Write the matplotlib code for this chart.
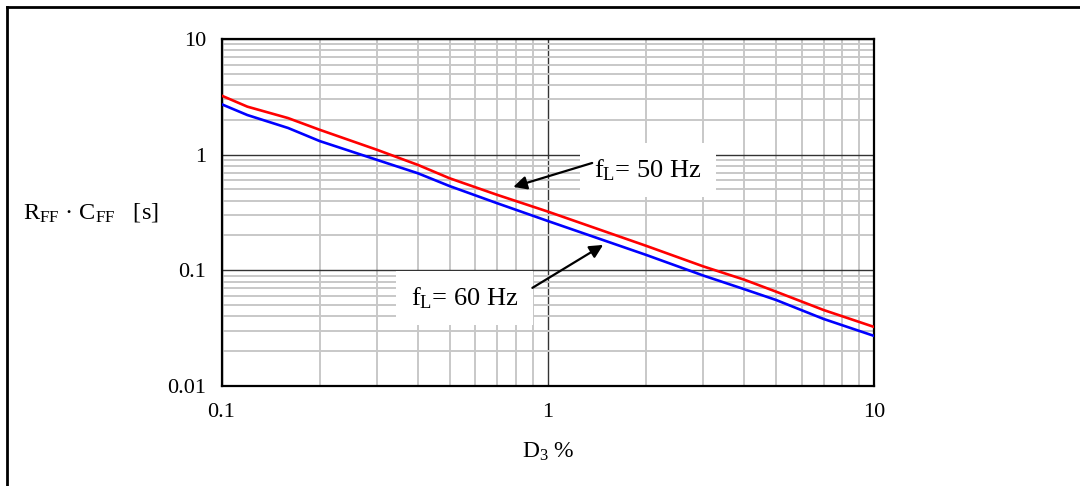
import numpy as np
import matplotlib
matplotlib.use("Agg")
import matplotlib.pyplot as plt
from matplotlib.lines import Line2D

D3 = [0.1, 0.12, 0.16, 0.2, 0.3, 0.4, 0.5, 0.7, 1, 2, 3, 4, 5, 7, 10]
RC_50HZ = [3.24, 2.60, 2.07, 1.64, 1.10, 0.815, 0.625, 0.449, 0.322, 0.163, 0.108, 0.083, 0.0655, 0.0454, 0.0324]
RC_60HZ = [2.73, 2.20, 1.70, 1.31, 0.90, 0.69, 0.535, 0.38, 0.267, 0.136, 0.090, 0.0687, 0.0555, 0.038, 0.0271]

XTICKS = [0.1, 1, 10]
XTICK_LABELS = ["0.1", "1", "10"]
YTICKS = [0.01, 0.1, 1, 10]
YTICK_LABELS = ["0.01", "0.1", "1", "10"]

plt.rcParams["font.family"] = ["Liberation Serif", "DejaVu Serif"]
plt.rcParams["mathtext.fontset"] = "custom"
plt.rcParams["mathtext.rm"] = "Liberation Serif"
plt.rcParams["mathtext.it"] = "Liberation Serif:italic"

fig = plt.figure(figsize=(10.8, 4.86), dpi=100)
ax = fig.add_axes([0.2051, 0.2058, 0.6042, 0.714])

ax.plot(D3, RC_50HZ, color="#ff0000", lw=1.9, zorder=3)
ax.plot(D3, RC_60HZ, color="#0000ff", lw=1.9, zorder=3)

ax.set_xscale("log")
ax.set_yscale("log")
ax.set_xlim(0.1, 10)
ax.set_ylim(0.01, 10)

ax.set_xticks(XTICKS)
ax.set_xticklabels(XTICK_LABELS)
ax.set_yticks(YTICKS)
ax.set_yticklabels(YTICK_LABELS)
ax.xaxis.set_minor_formatter(matplotlib.ticker.NullFormatter())
ax.yaxis.set_minor_formatter(matplotlib.ticker.NullFormatter())
ax.tick_params(which="both", length=0)
ax.tick_params(axis="x", labelsize=16, pad=12)
ax.tick_params(axis="y", labelsize=16, pad=11)

ax.grid(which="minor", color="#c8c8c8", lw=1.4)
ax.grid(which="major", color="#333333", lw=1.0)
ax.set_axisbelow(True)
for s in ax.spines.values():
    s.set_linewidth(1.6)
    s.set_color("black")

# labels
fig.text(548 / 1080, 1 - 452 / 486, r"D$_{\mathregular{3}}$ %", ha="center", va="center", fontsize=17)
fig.text(23 / 1080, 1 - 213 / 486, r"R$_{\mathregular{FF}}$ · C$_{\mathregular{FF}}$   [s]",
         ha="left", va="center", fontsize=17.5)

# annotations
box = dict(boxstyle="square,pad=0.55", fc="white", ec="none")
ax.text(2.03, 0.738, r"f$_{\mathregular{L}}$= 50 Hz", fontsize=19, ha="center", va="center", bbox=box, zorder=4)
ax.text(0.555, 0.0577, r"f$_{\mathregular{L}}$= 60 Hz", fontsize=19, ha="center", va="center", bbox=box, zorder=4)
arrow = dict(arrowstyle="-|>", color="black", lw=1.6, mutation_scale=20, shrinkA=0, shrinkB=0)
ax.annotate("", xy=(0.784, 0.526), xytext=(1.368, 0.847), arrowprops=arrow, zorder=5)
ax.annotate("", xy=(1.478, 0.1658), xytext=(0.897, 0.0705), arrowprops=arrow, zorder=5)

# outer frame (top and left edges visible)
fig.add_artist(Line2D([7 / 1080, 1.01], [1 - 7 / 486, 1 - 7 / 486], color="black", lw=2, transform=fig.transFigure))
fig.add_artist(Line2D([7 / 1080, 7 / 1080], [1 - 7 / 486, -0.01], color="black", lw=2, transform=fig.transFigure))

fig.savefig("out.png", dpi=100)
